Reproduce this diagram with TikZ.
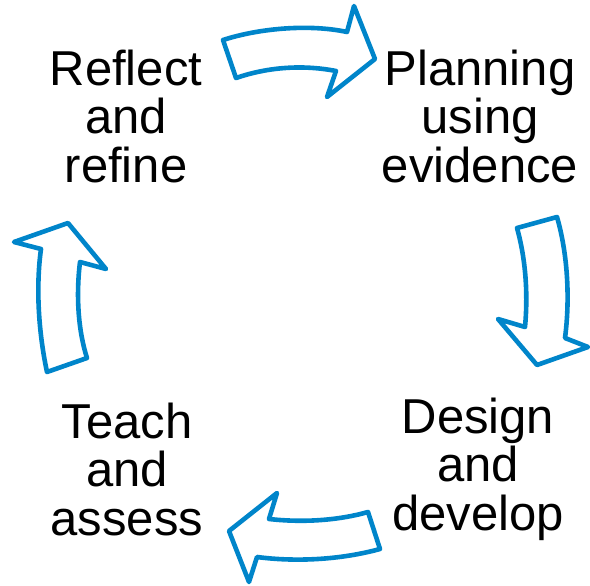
\documentclass[tikz,border=0pt]{standalone}
\usepackage{fontspec}
\setmainfont{Liberation Sans}
\definecolor{cycleblue}{RGB}{0,133,202}
\tikzset{
  cyclearrow/.style={draw=cycleblue, line width=4.6pt, line join=round, fill=white},
  steptext/.style={align=center, font=\fontsize{49}{48.5}\selectfont, inner sep=0pt}
}
\begin{document}
\begin{tikzpicture}[x=1pt,y=-1pt]
  \useasboundingbox (0,0) rectangle (590,586);
\node[steptext] (reflect) at (126,116) {Reflect\\and\\refine};
\node[steptext] (plan) at (480,116) {Planning\\using\\evidence};
\node[steptext] (design) at (478,469) {Design\\and\\develop};
\node[steptext] (teach) at (127,469) {Teach\\and\\assess};
% top arrow
\draw[cyclearrow] (223,40) .. controls (260,28) and (310,24) .. (347,32) -- (354,6) -- (375,59) -- (327,97) -- (336,71) .. controls (300,64) and (265,68) .. (236,78) -- cycle;
% right arrow
\draw[cyclearrow] (517,228) -- (557,217) .. controls (568,255) and (570,300) .. (565,338) -- (588,347) -- (537,365) -- (498,319) -- (525,327) .. controls (528,295) and (526,260) .. (517,228) -- cycle;
% bottom arrow
\draw[cyclearrow] (368,512) -- (380,549) .. controls (340,560) and (295,562) .. (257,557) -- (249,582) -- (229,531) -- (277,493) -- (269,519) .. controls (305,523) and (340,520) .. (368,512) -- cycle;
% left arrow
\draw[cyclearrow] (47,372) -- (87,358) .. controls (78,330) and (76,295) .. (80,262) -- (106,269) -- (68,223) -- (14,242) -- (41,249) .. controls (36,285) and (38,330) .. (47,372) -- cycle;
\end{tikzpicture}
\end{document}
